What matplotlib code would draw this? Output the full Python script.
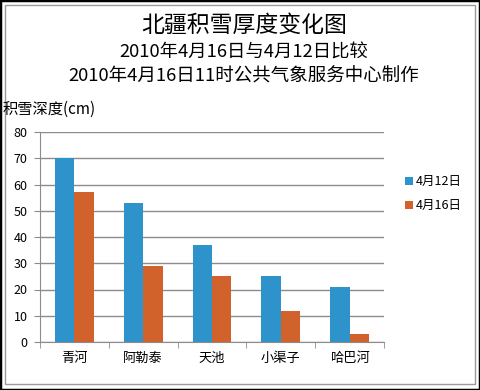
import matplotlib
matplotlib.use("Agg")
import matplotlib.pyplot as plt
from matplotlib.patches import Rectangle
import numpy as np

plt.rcParams['font.family'] = ['Noto Sans CJK SC', 'DejaVu Sans']

stations = ["青河", "阿勒泰", "天池", "小渠子", "哈巴河"]
depth_0412 = [70, 53, 37, 25, 21]
depth_0416 = [57, 29, 25, 12, 3]
series_names = ["4月12日", "4月16日"]
yticks = [0, 10, 20, 30, 40, 50, 60, 70, 80]

blue = "#2E93CB"
orange = "#D2622C"
grid_c = "#8C8C8C"

W, H = 480, 390
fig = plt.figure(figsize=(W / 100, H / 100), dpi=100)

# outer frames
fig.patches.append(Rectangle((0, 0), 1, 1, transform=fig.transFigure,
                             fill=False, edgecolor="black", linewidth=2.5))
fig.patches.append(Rectangle((5 / W, 6 / H), (W - 10) / W, (H - 11) / H,
                             transform=fig.transFigure, fill=False,
                             edgecolor="#9A9A9A", linewidth=1))

ax = fig.add_axes([40 / W, (H - 342) / H, (384 - 40) / W, (342 - 132) / H])

x = np.arange(len(stations))
w = 0.283
ax.bar(x - w / 2, depth_0412, w, color=blue, label=series_names[0], zorder=3)
ax.bar(x + w / 2, depth_0416, w, color=orange, label=series_names[1], zorder=3)

ax.set_xlim(-0.5, len(stations) - 0.5)
ax.set_ylim(0, 80)
ax.set_yticks(yticks)
ax.yaxis.grid(True, color=grid_c, linewidth=1, zorder=0)
ax.set_axisbelow(True)

ax.set_xticks(x)
ax.set_xticklabels(stations, fontsize=9.5)
ax.tick_params(axis="x", length=0, pad=7)
ax.set_xticks(np.arange(-0.5, len(stations)), minor=True)
ax.tick_params(axis="x", which="minor", length=4, color=grid_c)
ax.tick_params(axis="y", length=4, color=grid_c, labelsize=9, pad=5)

for s in ["top", "right"]:
    ax.spines[s].set_visible(False)
for s in ["left", "bottom"]:
    ax.spines[s].set_color(grid_c)

fig.text(244 / W, 1 - 25 / H, "北疆积雪厚度变化图", ha="center", va="center", fontsize=16.5)
fig.text(244 / W, 1 - 53 / H, "2010年4月16日与4月12日比较", ha="center", va="center", fontsize=13.2)
fig.text(244 / W, 1 - 77 / H, "2010年4月16日11时公共气象服务中心制作", ha="center", va="center", fontsize=13.3)
fig.text(3 / W, 1 - 109 / H, "积雪深度(cm)", ha="left", va="center", fontsize=11)

fig.legend(loc="upper left", bbox_to_anchor=(400 / W, 1 - 170 / H), frameon=False,
           fontsize=9, handlelength=0.6, handleheight=0.6, handletextpad=0.3,
           labelspacing=0.9, borderaxespad=0)

fig.savefig("out.png", dpi=100)
